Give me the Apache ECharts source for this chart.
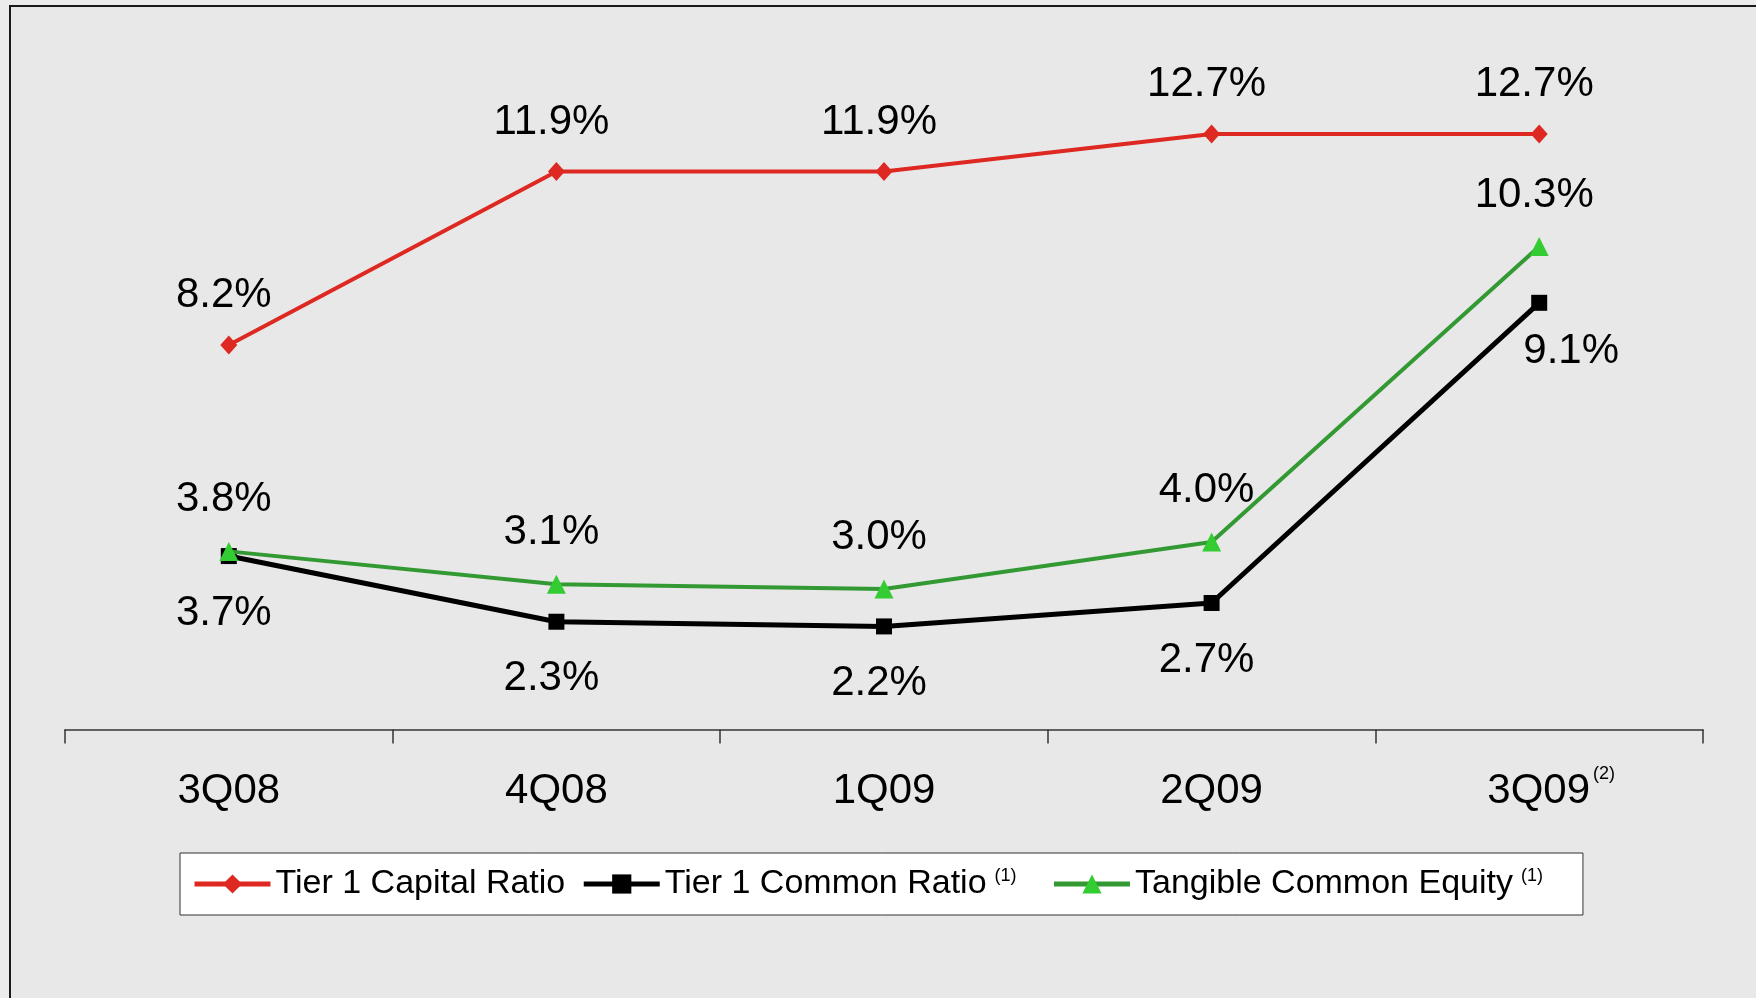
<!DOCTYPE html>
<html lang="en">

<head>
    <meta charset="UTF-8">
    <title>Capital ratios</title>
    <script src="https://cdn.jsdelivr.net/npm/echarts@6.0.0/dist/echarts.min.js"></script>
    <style>
        html, body { margin: 0; padding: 0; background: #ececec; }
    </style>
</head>

<body>
    <div id="main" style="width: 1756px;height:998px;"></div>

    <script type="text/javascript">
        // Dados
        const quarters = ['3Q08', '4Q08', '1Q09', '2Q09', '3Q09'];
        const tier1Capital = [8.2, 11.9, 11.9, 12.7, 12.7];
        const tier1Common = [3.7, 2.3, 2.2, 2.7, 9.1];
        const tangibleEquity = [3.8, 3.1, 3.0, 4.0, 10.3];
        const seriesNames = ['Tier 1 Capital Ratio', 'Tier 1 Common Ratio', 'Tangible Common Equity'];
        const legendNotes = ['', '(1)', '(1)'];

        const FONT = '"Liberation Sans", Arial, sans-serif';

        const chart = echarts.init(document.getElementById('main'));

        const pctLabel = (p) => p.value.toFixed(1) + '%';

        // Último ponto da série preta tem o rótulo deslocado para a direita
        const commonData = tier1Common.map((v, i) => {
            if (i === tier1Common.length - 1) {
                return { value: v, label: { offset: [32, -8] } };
            }
            return v;
        });

        const option = {
            backgroundColor: '#ececec',
            textStyle: { fontFamily: FONT },
            animation: false,
            graphic: [{
                type: 'rect',
                shape: { x: 10, y: 6, width: 1800, height: 1050 },
                style: { fill: '#e8e8e8', stroke: '#1a1a1a', lineWidth: 2 },
                z: -10
            }],
            grid: { left: 65, right: 53, top: 73, bottom: 268.4 },
            xAxis: {
                type: 'category',
                data: quarters,
                axisLine: { lineStyle: { color: '#333', width: 1.5 } },
                axisTick: { show: true, interval: 0, length: 14, lineStyle: { color: '#333', width: 1.5 } },
                axisLabel: {
                    interval: 0,
                    margin: 35,
                    color: '#000',
                    fontSize: 42,
                    fontFamily: FONT,
                    // a nota (2) fica fora da centralização do rótulo
                    formatter: (v, i) => i === quarters.length - 1 ? '{al|' + v + '}{s|(2)}' : '{a|' + v + '}',
                    rich: {
                        a: { fontSize: 42, fontFamily: FONT, color: '#000', padding: [6, 0, 0, 0] },
                        al: { fontSize: 42, fontFamily: FONT, color: '#000', padding: [6, 0, 0, 24] },
                        s: { fontSize: 18, fontFamily: FONT, color: '#000', verticalAlign: 'top', padding: [0, 0, 0, 3] }
                    }
                }
            },
            yAxis: {
                type: 'value',
                min: 0,
                max: 14,
                show: false,
                splitLine: { show: false }
            },
            legend: {
                left: 180,
                top: 853,
                backgroundColor: '#fff',
                borderColor: '#333',
                borderWidth: 1,
                padding: [14, 40, 14, 12],
                itemWidth: 76,
                itemHeight: 24,
                itemGap: 16,
                lineStyle: { width: 5 },
                textStyle: {
                    fontSize: 34,
                    fontFamily: FONT,
                    color: '#000',
                    rich: {
                        t: { fontSize: 34, fontFamily: FONT, color: '#000' },
                        s: { fontSize: 18, fontFamily: FONT, color: '#000', verticalAlign: 'top', padding: [0, 0, 0, 8] }
                    }
                },
                formatter: (name) => {
                    const idx = seriesNames.indexOf(name);
                    const note = legendNotes[idx];
                    if (!note) return '{t|' + name + '}';
                    const gap = idx === seriesNames.length - 1 ? '' : '{t|\u00a0\u00a0}';
                    return '{t|' + name + '}{s|' + note + '}' + gap;
                },
                data: seriesNames
            },
            series: [
                {
                    name: seriesNames[0],
                    type: 'line',
                    data: tier1Capital,
                    symbol: 'diamond',
                    symbolSize: [17, 19],
                    lineStyle: { color: '#dd2922', width: 4 },
                    itemStyle: { color: '#dd2922' },
                    label: {
                        show: true, position: 'top', distance: 19, offset: [-5, 0],
                        fontSize: 42, fontFamily: FONT, color: '#000', formatter: pctLabel
                    },
                    z: 3
                },
                {
                    name: seriesNames[1],
                    type: 'line',
                    data: commonData,
                    symbol: 'rect',
                    symbolSize: 16,
                    lineStyle: { color: '#000', width: 5 },
                    itemStyle: { color: '#000' },
                    label: {
                        show: true, position: 'bottom', distance: 28, offset: [-5, 0],
                        fontSize: 42, fontFamily: FONT, color: '#000', formatter: pctLabel
                    },
                    z: 2
                },
                {
                    name: seriesNames[2],
                    type: 'line',
                    data: tangibleEquity,
                    symbol: 'triangle',
                    symbolSize: 19,
                    lineStyle: { color: '#339a33', width: 4 },
                    itemStyle: { color: '#33cc33' },
                    label: {
                        show: true, position: 'top', distance: 21, offset: [-5, 0],
                        fontSize: 42, fontFamily: FONT, color: '#000', formatter: pctLabel
                    },
                    z: 4
                }
            ]
        };

        chart.setOption(option);
    </script>
</body>

</html>
